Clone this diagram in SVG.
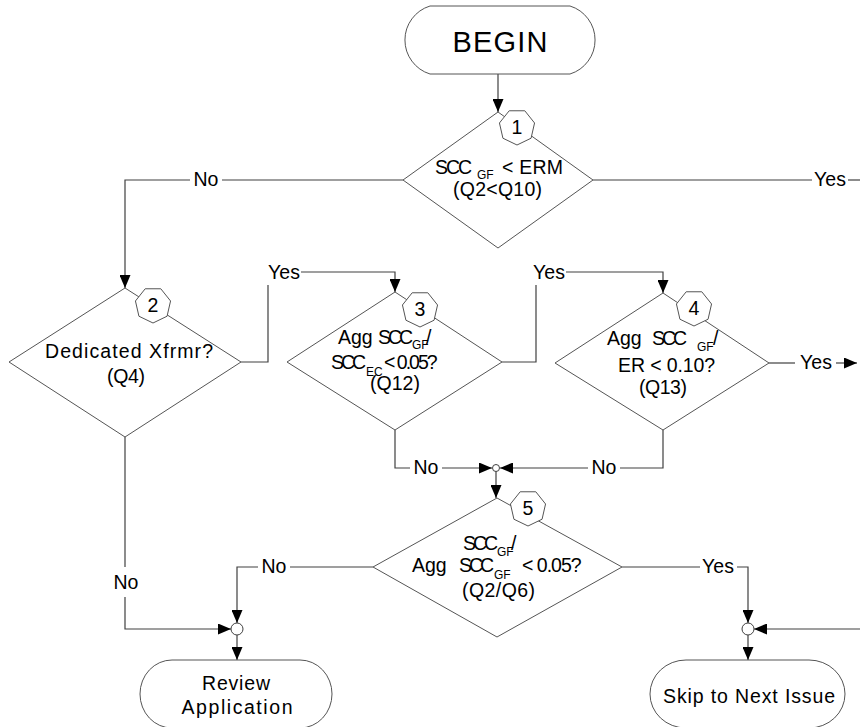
<svg xmlns="http://www.w3.org/2000/svg" width="860" height="727" viewBox="0 0 860 727">
<defs>
<style>
.shape{fill:#fff;stroke:#555;stroke-width:1}
.t{font-family:"Liberation Sans",Arial,sans-serif;font-size:19.5px;fill:#000}
.m{text-anchor:middle}
.s{font-size:12px}
.k{letter-spacing:-3px}
.c{stroke:#404040;stroke-width:1.2;fill:none}
.a{marker-end:url(#arr)}
.j{fill:#fff;stroke:#404040;stroke-width:1}
</style>
<marker id="arr" viewBox="0 0 13 11" refX="13" refY="5.5" markerWidth="13" markerHeight="11" orient="auto" markerUnits="userSpaceOnUse"><path d="M0,0 L13,5.5 L0,11 Z" fill="#000"/></marker>
<polygon id="hept" points="0,18 -14.07,11.22 -17.55,-4.01 -7.81,-16.22 7.81,-16.22 17.55,-4.01 14.07,11.22" class="shape"/>
</defs>
<rect width="860" height="727" fill="#fff"/>

<g id="connectors">
<path class="c a" d="M498,74 V112"/>
<path class="c" d="M403,180 H222"/>
<path class="c a" d="M190,180 H125 V288"/>
<text class="t m" x="206" y="186">No</text>
<path class="c" d="M593,180 H812"/>
<path class="c" d="M848,180 H860"/>
<text class="t m" x="830" y="186">Yes</text>
<path class="c" d="M241,362 H268 V285"/>
<path class="c a" d="M301,272 H395 V292"/>
<text class="t m" x="284" y="279">Yes</text>
<path class="c" d="M502,362 H536 V285"/>
<path class="c a" d="M566,272 H663 V293"/>
<text class="t m" x="549" y="279">Yes</text>
<path class="c" d="M769,363 H795"/>
<path class="c a" d="M836,363 H857"/>
<text class="t m" x="816" y="369">Yes</text>
<path class="c" d="M395,430 V468 H410"/>
<path class="c a" d="M442,468 H492"/>
<text class="t m" x="426" y="474">No</text>
<path class="c" d="M663,430 V468 H620"/>
<path class="c a" d="M588,468 H500"/>
<text class="t m" x="604" y="474">No</text>
<circle class="j" cx="496" cy="468" r="3.5"/>
<path class="c a" d="M496,471.5 V498"/>
<path class="c" d="M373,567 H290"/>
<path class="c a" d="M258,567 H237 V623"/>
<text class="t m" x="274" y="573">No</text>
<path class="c" d="M125,437 V567"/>
<path class="c a" d="M125,597 V629 H231"/>
<text class="t m" x="126" y="589">No</text>
<circle class="j" cx="237" cy="629" r="6"/>
<path class="c a" d="M237,635 V660"/>
<path class="c" d="M622,567 H700"/>
<path class="c a" d="M737,567 H748 V623"/>
<text class="t m" x="718" y="573">Yes</text>
<path class="c a" d="M860,629 H754"/>
<circle class="j" cx="748" cy="629" r="6"/>
<path class="c a" d="M748,635 V660"/>
</g>

<g id="begin">
<path class="shape" d="M430,6 H570 A35.6,35.6 0 0 1 570,74 H430 A35.6,35.6 0 0 1 430,6 Z"/>
<text class="t m" x="500" y="52" style="font-size:29px" textLength="95">BEGIN</text>
</g>

<g id="q1">
<polygon class="shape" points="498,112 593,180 498,248 403,180"/>
<use href="#hept" x="517" y="127"/>
<text class="t m" x="517" y="134">1</text>
<text class="t" x="435" y="174" style="letter-spacing:-2px">SCC</text>
<text class="t s" x="477" y="179">GF</text>
<text class="t" x="502" y="174" textLength="61">&lt; ERM</text>
<text class="t" x="453" y="196" textLength="89">(Q2&lt;Q10)</text>
</g>

<g id="q2">
<polygon class="shape" points="125,288 241,362 125,437 9,362"/>
<use href="#hept" x="153" y="305"/>
<text class="t m" x="153" y="312">2</text>
<text class="t" x="45" y="358" textLength="168">Dedicated Xfrmr?</text>
<text class="t" x="107" y="383" textLength="38">(Q4)</text>
</g>

<g id="q3">
<polygon class="shape" points="395,292 502,362 395,430 287,362"/>
<use href="#hept" x="420" y="309"/>
<text class="t m" x="420" y="316">3</text>
<text class="t" x="338" y="344">Agg</text>
<text class="t k" x="378" y="344">SCC</text>
<text class="t s" x="412" y="349">GF</text>
<text class="t" x="426" y="344">/</text>
<text class="t k" x="331" y="369">SCC</text>
<text class="t s" x="366" y="376">EC</text>
<text class="t" x="384" y="369" style="letter-spacing:-2px">&lt; 0.05?</text>
<text class="t" x="370" y="390" textLength="50">(Q12)</text>
</g>

<g id="q4">
<polygon class="shape" points="663,293 769,363 663,430 555,363"/>
<use href="#hept" x="694" y="308"/>
<text class="t m" x="694" y="315">4</text>
<text class="t" x="607" y="345">Agg</text>
<text class="t k" x="652" y="345">SCC</text>
<text class="t s" x="697" y="351">GF</text>
<text class="t" x="713" y="345">/</text>
<text class="t" x="618" y="372" textLength="97">ER &lt; 0.10?</text>
<text class="t" x="639" y="394" textLength="48">(Q13)</text>
</g>

<g id="q5">
<polygon class="shape" points="497,498 622,567 497,637 373,567"/>
<use href="#hept" x="528" y="508"/>
<text class="t m" x="528" y="515">5</text>
<text class="t k" x="463" y="550">SCC</text>
<text class="t s" x="497" y="556">GF</text>
<text class="t" x="511" y="550">/</text>
<text class="t" x="412" y="572">Agg</text>
<text class="t k" x="459" y="572">SCC</text>
<text class="t s" x="494" y="579">GF</text>
<text class="t" x="522" y="572" style="letter-spacing:-1px">&lt; 0.05?</text>
<text class="t" x="462" y="597" textLength="73">(Q2/Q6)</text>
</g>

<g id="review">
<path class="shape" d="M172,660 H300 A32,34 0 0 1 300,728 H172 A32,34 0 0 1 172,660 Z"/>
<text class="t m" x="236" y="690" textLength="68">Review</text>
<text class="t m" x="237" y="714" textLength="111">Application</text>
</g>

<g id="skip">
<path class="shape" d="M686,660 H809 A36,34 0 0 1 809,728 H686 A36,34 0 0 1 686,660 Z"/>
<text class="t m" x="749" y="703" textLength="172">Skip to Next Issue</text>
</g>
</svg>
